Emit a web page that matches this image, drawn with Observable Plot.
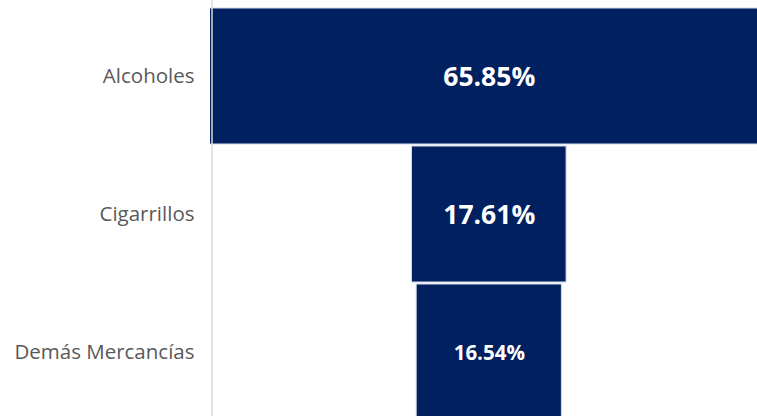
<!DOCTYPE html>
<html>
<head>
<meta charset="utf-8">
<script src="https://cdn.jsdelivr.net/npm/d3@7"></script>
<script src="https://cdn.jsdelivr.net/npm/@observablehq/plot@0.6"></script>
<style>
  html, body { margin: 0; padding: 0; background: #fff; overflow: hidden; }
</style>
</head>
<body>
<div id="chart"></div>
<script>
const categories = ["Alcoholes", "Cigarrillos", "Demás Mercancías"];
const values = [65.85, 17.61, 16.54];

const data = categories.map((c, i) => ({ category: c, value: values[i] }));

const xMin = -31.75, xMax = 30.55;

const chart = Plot.plot({
  width: 757,
  height: 416,
  marginLeft: 210,
  marginRight: 0,
  marginTop: 0,
  marginBottom: 0,
  style: { fontFamily: "'Open Sans', sans-serif", background: "#fff" },
  x: { domain: [xMin, xMax], axis: null },
  y: { type: "band", domain: categories, range: [7, 421.5], paddingInner: 0.012, paddingOuter: 0, label: null },
  marks: [
    Plot.barX(data, {
      y: "category",
      x1: d => -d.value / 2,
      x2: d => d.value / 2,
      fill: "#002060",
      stroke: "#d6dcea",
      strokeWidth: 1,
      clip: true
    }),
    Plot.ruleX([xMin], { stroke: "#d9d9d9", strokeWidth: 1.5, dx: 1.5 }),
    Plot.axisY({ tickSize: 0, tickPadding: 16, fontSize: 20.5, fill: "#595959", label: null }),
    Plot.text(data, {
      y: "category",
      x: () => 0,
      text: d => d.value.toFixed(2) + "%",
      fill: "white",
      fontWeight: "bold",
      fontSize: (d, i) => (i === 2 ? 20.5 : 26.5),
      dy: 1
    })
  ]
});

document.getElementById("chart").appendChild(chart);
</script>
</body>
</html>
